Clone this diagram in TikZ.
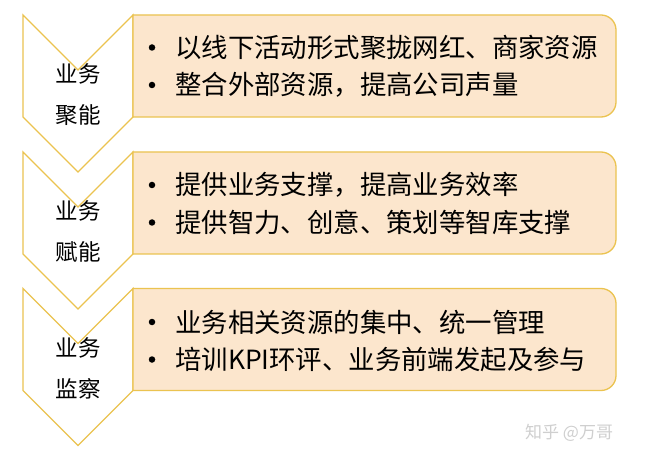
\documentclass[tikz,border=0pt]{standalone}
\usepackage{fontspec}
\newfontfamily\cjk{Noto Sans CJK SC}
\definecolor{gold}{HTML}{EBC350}
\definecolor{peach}{HTML}{FCE6CD}
\definecolor{wm}{HTML}{CFCFCF}
\tikzset{
  chev/.style={draw=gold, line width=1.3pt, fill=white, line join=miter},
  boxshape/.style={draw=gold, line width=1.3pt, fill=peach},
  lbl/.style={font=\cjk\fontsize{22.5}{26}\selectfont, text=black, align=center, inner sep=0pt},
  item/.style={font=\cjk\fontsize{26.4}{30}\selectfont, text=black, anchor=west, inner sep=0pt},
  dot/.style={fill=black, circle, minimum size=6.5pt, inner sep=0pt}
}
\newcommand{\stage}[7]{%
  \begin{scope}[yshift=#1]
    \draw[chev] (23,0) -- (78,-55) -- (133,0) -- (133,-102) -- (78,-157) -- (23,-102) -- cycle;
    \draw[boxshape] (133,0) -- (601,0) arc[start angle=90,end angle=0,radius=15] -- (616,-87)
      arc[start angle=0,end angle=-90,radius=15] -- (133,-102) -- cycle;
    \node[lbl] (#2l1) at (78,-59) {#3};
    \node[lbl] (#2l2) at (78,-100) {#4};
    \node[dot] (#2d1) at (152,-#7) {};
    \node[item] (#2t1) at (175,-#7) {#5};
    \node[dot] (#2d2) at (152,-#7-37.5) {};
    \node[item] (#2t2) at (175,-#7-37.5) {#6};
  \end{scope}}
\begin{document}
\begin{tikzpicture}[x=1pt,y=1pt]
\useasboundingbox (0,0) rectangle (645,461);
\fill[white] (0,0) rectangle (645,461);
\stage{446pt}{a}{业务}{聚能}{以线下活动形式聚拢网红、商家资源}{整合外部资源，提高公司声量}{32.5}
\stage{309pt}{b}{业务}{赋能}{提供业务支撑，提高业务效率}{提供智力、创意、策划等智库支撑}{33}
\stage{172.5pt}{c}{业务}{监察}{业务相关资源的集中、统一管理}{培训KPI环评、业务前端发起及参与}{33.5}
\node[font=\cjk\fontsize{17}{20}\selectfont, text=wm, anchor=west, inner sep=0pt] (wmk) at (525,28) {知乎 @万哥};
\end{tikzpicture}
\end{document}
